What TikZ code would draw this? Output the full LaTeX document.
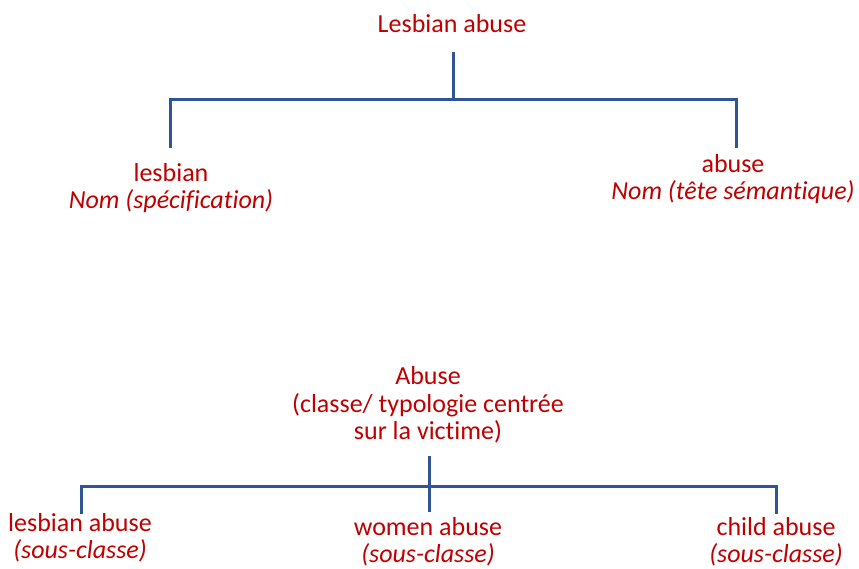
\documentclass[tikz,border=0pt]{standalone}
\usepackage{fontspec}
\setmainfont{Carlito}[Ligatures=NoCommon]
\definecolor{txtred}{HTML}{C00000}
\definecolor{lineblue}{HTML}{2F5597}
\begin{document}
\begin{tikzpicture}[x=1pt,y=-1pt,
  lbl/.style={text=txtred, inner sep=0pt, align=center, font=\fontsize{26}{27.5}\selectfont},
  conn/.style={draw=lineblue, line width=3pt}]
\useasboundingbox (0,0) rectangle (859,569);
% top tree
\node[lbl] (root) at (452,24) {Lesbian abuse};
\node[lbl] (lesb) at (171,188) {lesbian\\\textit{Nom (spécification)}};
\node[lbl] (abus) at (733,179) {abuse\\\textit{Nom (tête sémantique)}};
\coordinate (rt) at (453,52);
\coordinate (rj) at (453,100);
\coordinate (lt) at (170,148);
\coordinate (at) at (736,148);
\draw[conn] (rt) -- (rj);
\draw[conn] (rj) -| (lt);
\draw[conn] (rj) -| (at);
% bottom tree
\node[lbl] (cls) at (428,405) {Abuse\\(classe/ typologie centrée\\sur la victime)};
\node[lbl] (lab) at (80,538) {lesbian abuse\\\textit{(sous-classe)}};
\node[lbl] (wab) at (428,542) {women abuse\\\textit{(sous-classe)}};
\node[lbl] (cab) at (776,542) {child abuse\\\textit{(sous-classe)}};
\coordinate (ct) at (429,456);
\coordinate (cj) at (429,486);
\coordinate (lbt) at (81,514);
\coordinate (wbt) at (429,512);
\coordinate (cbt) at (776,514);
\draw[conn] (ct) -- (wbt);
\draw[conn] (cj) -| (lbt);
\draw[conn] (cj) -| (cbt);
\end{tikzpicture}
\end{document}
